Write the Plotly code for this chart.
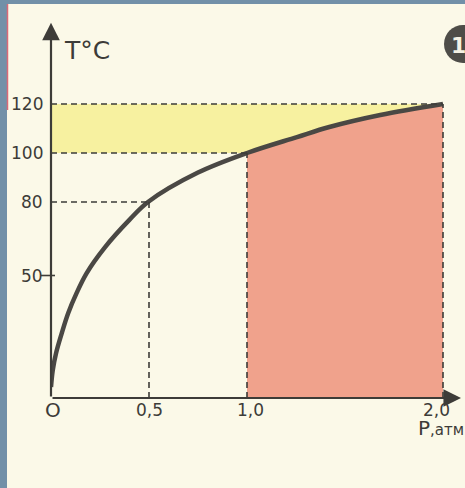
import plotly.graph_objects as go

# ---- data ----
pressure_atm = [0, 0.009, 0.026, 0.055, 0.088, 0.131, 0.182, 0.276, 0.40, 0.495, 0.75,
                1.0, 1.255, 1.42, 1.68, 2.0]
temperature_c = [4.5, 11.4, 18.4, 26.5, 34.7, 42.9, 51, 61.6, 72.7, 80, 92,
                 100, 106.5, 110.6, 115.5, 120]
x_tick_labels = ["O", "0,5", "1,0", "2,0"]
x_tick_values = [0, 0.5, 1.0, 2.0]
y_tick_labels = ["120", "100", "80", "50"]
y_tick_values = [120, 100, 80, 50]
guide_points = [(0.5, 80), (1.0, 100), (2.0, 120)]

W, H = 465, 488
L, R, T, B = 51, 3, 22, 90
PW, PH = W - L - R, H - T - B
XS, YS = 196.0, 2.45  # pixels per unit
X_MAX = PW / XS
Y_MAX = PH / YS

def px(xp):
    return (xp - L) / PW

def py(yp):
    return (H - B - yp) / PH

def dx2p(v):
    return v * XS / PW

def dy2p(v):
    return v * YS / PH

INK = "#3d3c38"
fig = go.Figure()

# red region under the curve between 1 and 2 atm
red_x = [p for p in pressure_atm if p >= 1.0]
red_y = [t for p, t in zip(pressure_atm, temperature_c) if p >= 1.0]
fig.add_trace(go.Scatter(x=red_x, y=red_y, mode="lines", line=dict(width=0, shape="spline"),
                         fill="tozeroy", fillcolor="#f0a28c", hoverinfo="skip", showlegend=False))
# curve
fig.add_trace(go.Scatter(x=pressure_atm, y=temperature_c, mode="lines",
                         line=dict(color="#4a4844", width=4.5, shape="spline"),
                         hoverinfo="skip", showlegend=False))

shapes = []
# background strips
shapes.append(dict(type="rect", xref="paper", yref="paper", x0=px(-5), x1=px(7), y0=py(H + 5), y1=py(-5),
                   fillcolor="#7290a8", line_width=0, layer="below"))
shapes.append(dict(type="rect", xref="paper", yref="paper", x0=px(-5), x1=px(W + 5), y0=py(4), y1=py(-5),
                   fillcolor="#7290a8", line_width=0, layer="below"))
shapes.append(dict(type="line", xref="paper", yref="paper", x0=px(7.5), x1=px(7.5), y0=py(110), y1=py(4),
                   line=dict(color="#d86a78", width=1.5), layer="below"))
# yellow band
shapes.append(dict(type="rect", xref="x", yref="y", x0=0, x1=2.0, y0=100, y1=120,
                   fillcolor="#f7f1a0", line_width=0, layer="below"))
# dashed guides
dash = dict(color=INK, width=1.6, dash="6px,4px")
for gx, gy in guide_points:
    shapes.append(dict(type="line", xref="x", yref="y", x0=0, x1=gx, y0=gy, y1=gy, line=dash, layer="above"))
    shapes.append(dict(type="line", xref="x", yref="y", x0=gx, x1=gx, y0=0, y1=gy, line=dash, layer="above"))
# tick at 50
shapes.append(dict(type="line", xref="paper", yref="y", x0=px(41), x1=px(55), y0=50, y1=50,
                   line=dict(color=INK, width=1.6), layer="above"))
# badge circle
shapes.append(dict(type="circle", xref="paper", yref="paper", x0=px(444), x1=px(482), y0=py(63), y1=py(25),
                   fillcolor="#4e4d48", line_width=0))

annotations = []
# axes with arrows
annotations.append(dict(x=0, y=Y_MAX - 0.3, ax=0, ay=0, xref="x", yref="y", axref="x", ayref="y",
                        text="", showarrow=True, arrowhead=2, arrowsize=1.6, arrowwidth=2.2, arrowcolor=INK))
annotations.append(dict(x=X_MAX - 0.005, y=0, ax=0, ay=0, xref="x", yref="y", axref="x", ayref="y",
                        text="", showarrow=True, arrowhead=2, arrowsize=1.6, arrowwidth=2.2, arrowcolor=INK))

font = dict(family="DejaVu Sans", color=INK)
for lab, val in zip(y_tick_labels, y_tick_values):
    annotations.append(dict(x=px(45), y=dy2p(val), xref="paper", yref="paper", text=lab, showarrow=False,
                            xanchor="right", yanchor="middle", font=dict(size=17, **font)))
shifts = {"O": 2, "0,5": 0, "1,0": 4, "2,0": -7}
for lab, val in zip(x_tick_labels, x_tick_values):
    size = 20 if lab == "O" else 17
    annotations.append(dict(x=dx2p(val) + shifts[lab] / PW, y=py(410), xref="paper", yref="paper", text=lab,
                            showarrow=False, xanchor="center", yanchor="middle", font=dict(size=size, **font)))
annotations.append(dict(x=px(62), y=py(50), xref="paper", yref="paper", text="T°C", showarrow=False,
                        xanchor="left", yanchor="middle", font=dict(size=25, **font)))
annotations.append(dict(x=px(416), y=py(428), xref="paper", yref="paper",
                        text="P<span style='font-size:15px'>,атм</span>", showarrow=False,
                        xanchor="left", yanchor="middle", font=dict(size=20, **font)))
annotations.append(dict(x=px(458), y=py(45), xref="paper", yref="paper", text="<b>1</b>", showarrow=False,
                        xanchor="center", yanchor="middle", font=dict(size=22, family="DejaVu Sans", color="#f4f2e4")))

fig.update_layout(
    width=W, height=H, margin=dict(l=L, r=R, t=T, b=B, pad=0),
    paper_bgcolor="#fbf9e8", plot_bgcolor="rgba(0,0,0,0)",
    xaxis=dict(range=[0, X_MAX], visible=False, fixedrange=True),
    yaxis=dict(range=[0, Y_MAX], visible=False, fixedrange=True),
    shapes=shapes, annotations=annotations, showlegend=False,
)
fig.write_html("out.html", config={"displayModeBar": False},
               post_script="document.body.style.margin='0';document.body.style.overflow='hidden';")
